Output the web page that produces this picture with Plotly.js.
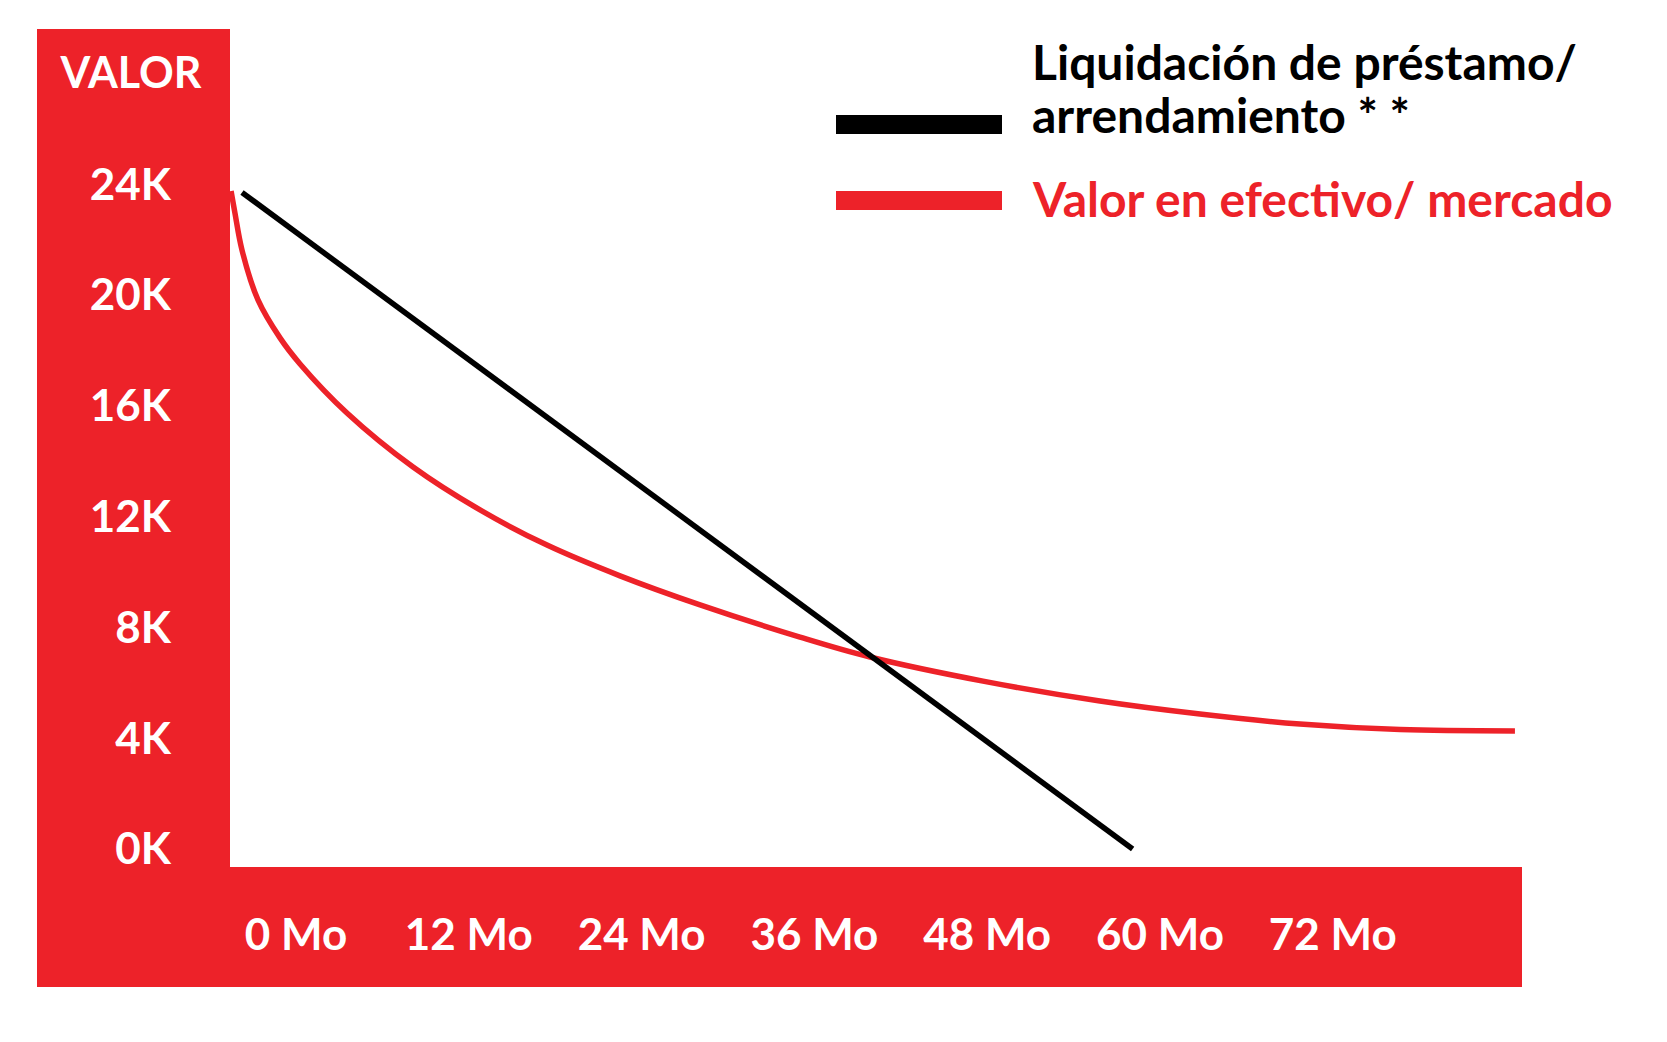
<!DOCTYPE html>
<html>
<head>
<meta charset="utf-8">
<script src="https://cdn.plot.ly/plotly-3.0.1.min.js"></script>
<style>
  html, body { margin: 0; padding: 0; background: #ffffff; }
  #chart { width: 1667px; height: 1042px; }
</style>
</head>
<body>
<div id="chart"></div>
<script>
// Values (months, thousands of dollars)
const monthTicks = [0, 12, 24, 36, 48, 60, 72];
const monthLabels = ['0 Mo', '12 Mo', '24 Mo', '36 Mo', '48 Mo', '60 Mo', '72 Mo'];
const valueTicks = [0, 4, 8, 12, 16, 20, 24];
const valueLabels = ['0K', '4K', '8K', '12K', '16K', '20K', '24K'];

const seriesNames = ['Liquidación de préstamo/ arrendamiento * *', 'Valor en efectivo/ mercado'];
const legendLines = [['Liquidación de préstamo/', 'arrendamiento * *'], ['Valor en efectivo/ mercado']];

const loanMonths = [-3.75, 58.1];
const loanValues = [23.7, 0];

const cashMonths = [-4.51, -4.24, -3.75, -2.64, -1.11, 0.28, 3.54, 8.13, 12.78, 17.43, 22.5, 28.06,
    35.0, 39.86, 47.71, 55.83, 62.78, 69.72, 76.67, 84.65];
const cashValues = [23.75, 22.96, 21.62, 19.82, 18.45, 17.51, 15.74, 13.79, 12.24, 10.97, 9.86, 8.81,
    7.65, 6.93, 6.06, 5.34, 4.87, 4.51, 4.31, 4.26];

const RED = '#ED2229';
const BLACK = '#000000';
const FONT = 'Lato, "Open Sans", sans-serif';

// page geometry
const W = 1667, H = 1042;
const M = { l: 230, r: 145, t: 29, b: 175 };
const plotW = W - M.l - M.r;
const plotH = H - M.t - M.b;
function px(x) { return (x - M.l) / plotW; }
function py(y) { return (H - M.b - y) / plotH; }

const loanTrace = {
    x: loanMonths,
    y: loanValues,
    type: 'scatter',
    mode: 'lines',
    name: seriesNames[0],
    line: { color: BLACK, width: 5.5 }
};

const cashTrace = {
    x: cashMonths,
    y: cashValues,
    type: 'scatter',
    mode: 'lines',
    name: seriesNames[1],
    line: { color: RED, width: 5.5, shape: 'spline', smoothing: 1 }
};

// L-shaped red frame behind the axis labels
const shapes = [
    { type: 'rect', xref: 'paper', yref: 'paper', layer: 'below',
      x0: px(37), x1: px(M.l), y0: py(987), y1: py(29),
      fillcolor: RED, line: { width: 0 } },
    { type: 'rect', xref: 'paper', yref: 'paper', layer: 'below',
      x0: px(37), x1: 1, y0: py(987), y1: 0,
      fillcolor: RED, line: { width: 0 } },
    // legend swatches
    { type: 'rect', xref: 'paper', yref: 'paper',
      x0: px(836), x1: px(1002), y0: py(134), y1: py(115),
      fillcolor: BLACK, line: { width: 0 } },
    { type: 'rect', xref: 'paper', yref: 'paper',
      x0: px(836), x1: px(1002), y0: py(210), y1: py(191),
      fillcolor: RED, line: { width: 0 } }
];

const legendFont = { family: FONT, size: 48, weight: 'bold' };
const annotations = [
    { text: legendLines[0][0], x: px(1030), y: py(62), color: BLACK },
    { text: legendLines[0][1], x: px(1030), y: py(114), color: BLACK },
    { text: legendLines[1][0], x: px(1030), y: py(198), color: RED }
].map(a => ({
    text: a.text, xref: 'paper', yref: 'paper', x: a.x, y: a.y,
    xanchor: 'left', yanchor: 'middle', showarrow: false,
    font: Object.assign({}, legendFont, { color: a.color })
}));

const tickFont = { family: FONT, size: 44, weight: 'bold', color: 'white' };

const layout = {
    width: W,
    height: H,
    margin: M,
    paper_bgcolor: 'white',
    plot_bgcolor: 'white',
    showlegend: false,
    title: {
        text: 'VALOR',
        xref: 'container', yref: 'container',
        x: 131 / W, xanchor: 'center',
        y: 1 - 73 / H, yanchor: 'middle',
        font: { family: FONT, size: 43, weight: 'bold', color: 'white' }
    },
    xaxis: {
        range: [-4.583, 85.14],
        tickvals: monthTicks,
        ticktext: monthLabels,
        ticks: '',
        ticklabelstandoff: 38,
        showgrid: false,
        zeroline: false,
        showline: false,
        tickfont: tickFont
    },
    yaxis: {
        range: [-0.65, 29.6],
        tickvals: valueTicks,
        ticktext: valueLabels,
        ticks: '',
        ticklabelstandoff: 58,
        showgrid: false,
        zeroline: false,
        showline: false,
        tickfont: tickFont
    },
    shapes: shapes,
    annotations: annotations
};

Plotly.newPlot('chart', [cashTrace, loanTrace], layout, { displayModeBar: false, staticPlot: true });
</script>
</body>
</html>
